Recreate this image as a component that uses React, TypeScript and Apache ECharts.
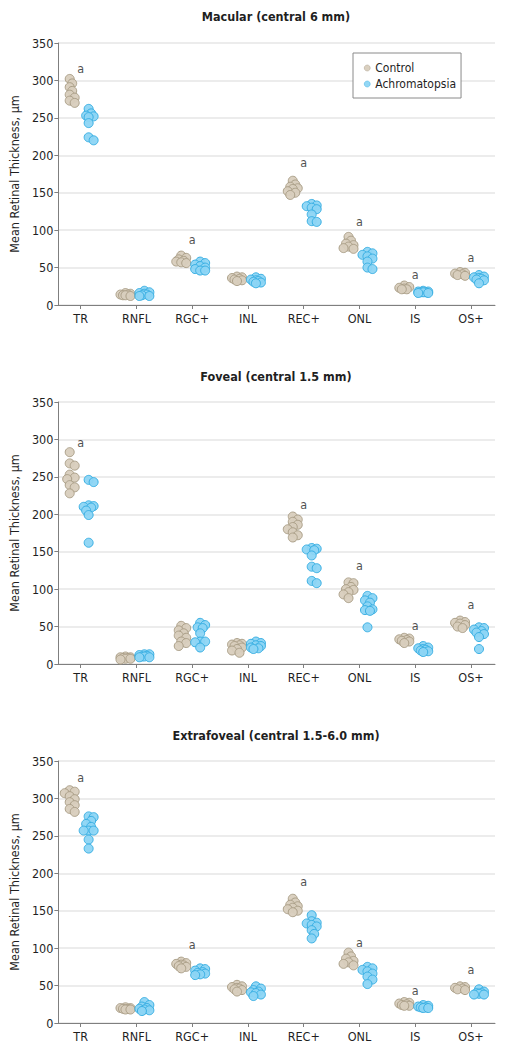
import React, { useEffect, useRef } from "react";
import * as echarts from "echarts";

const categories = ["TR", "RNFL", "RGC+", "INL", "REC+", "ONL", "IS", "OS+"];

// Macular (central 6 mm)
const macularControl = [
  [302, 296, 291, 286, 281, 277, 273, 270],
  [16, 15, 14, 14, 13, 13, 12],
  [66, 63, 61, 59, 58, 57, 56],
  [38, 37, 36, 35, 34, 33, 32],
  [166, 161, 158, 156, 155, 152, 150, 147],
  [91, 86, 82, 80, 78, 76, 75],
  [26, 24, 23, 22, 21, 21],
  [44, 43, 42, 41, 40, 39],
];
const macularAchro = [
  [262, 256, 253, 252, 251, 243, 224, 220],
  [19, 17, 16, 15, 14, 13, 12, 12],
  [58, 56, 54, 52, 50, 48, 46, 46],
  [37, 35, 34, 33, 32, 31, 30, 29],
  [135, 133, 132, 130, 128, 121, 112, 111],
  [71, 69, 67, 65, 62, 58, 50, 48],
  [19, 18, 18, 17, 17, 17, 16, 16],
  [40, 38, 37, 36, 35, 34, 33, 29],
];
const macularSig = [316, null, 88, null, 190, 111, 41, 63];

// Foveal (central 1.5 mm)
const fovealControl = [
  [283, 268, 265, 253, 249, 247, 239, 236, 228],
  [10, 9, 9, 8, 8, 7, 7, 6],
  [51, 48, 45, 41, 38, 35, 30, 28, 24],
  [28, 27, 26, 25, 24, 22, 20, 18, 15],
  [197, 193, 190, 186, 183, 180, 176, 172, 169],
  [109, 108, 103, 100, 99, 96, 93, 88],
  [35, 34, 33, 32, 31, 30, 28],
  [58, 56, 55, 54, 52, 50, 48],
];
const fovealAchro = [
  [246, 243, 212, 211, 210, 209, 205, 199, 162],
  [13, 13, 12, 11, 10, 10, 9, 9],
  [55, 52, 49, 48, 41, 30, 30, 29, 22],
  [30, 28, 27, 25, 24, 22, 21, 20],
  [155, 154, 153, 152, 145, 130, 128, 111, 108],
  [91, 88, 85, 82, 77, 73, 72, 71, 49],
  [24, 22, 21, 20, 19, 18, 17, 16],
  [49, 48, 46, 44, 42, 40, 36, 20],
];
const fovealSig = [296, null, null, null, 213, 132, 51, 79];

// Extrafoveal (central 1.5-6.0 mm)
const extraControl = [
  [311, 309, 307, 303, 299, 295, 291, 286, 282],
  [21, 20, 20, 19, 19, 18, 18],
  [82, 80, 79, 78, 77, 76, 75, 73],
  [51, 49, 48, 47, 46, 45, 44, 42],
  [166, 161, 158, 156, 154, 152, 150, 148],
  [94, 89, 86, 83, 81, 79, 77],
  [28, 27, 26, 25, 24, 23, 23],
  [49, 48, 47, 46, 45, 44],
];
const extraAchro = [
  [276, 275, 270, 266, 262, 257, 257, 257, 245, 233],
  [28, 24, 22, 20, 19, 18, 17, 16],
  [73, 72, 70, 68, 67, 66, 65, 64],
  [49, 46, 44, 42, 41, 40, 38, 36],
  [144, 136, 134, 133, 131, 129, 124, 119, 113],
  [75, 73, 71, 69, 66, 62, 58, 52],
  [24, 23, 22, 21, 21, 20, 20],
  [45, 42, 40, 40, 39, 38, 38],
];
const extraSig = [328, null, 105, null, 189, 107, 44, 72];

const panels = [
  { title: "Macular (central 6 mm)", control: macularControl, achro: macularAchro, sig: macularSig, top: 43, titleTop: 10 },
  { title: "Foveal (central 1.5 mm)", control: fovealControl, achro: fovealAchro, sig: fovealSig, top: 402, titleTop: 370 },
  { title: "Extrafoveal (central 1.5-6.0 mm)", control: extraControl, achro: extraAchro, sig: extraSig, top: 761, titleTop: 729 },
];

const FONT = "'Liberation Sans Narrow', 'DejaVu Sans Condensed', Roboto, sans-serif";
const TEXT = "#1f1f1f";
const AXIS = "#7f7f7f";
const GRID_LEFT = 57;
const GRID_W = 438;
const GRID_H = 262;
const X_MIN = -0.4;
const X_MAX = 7.43;
const Y_MAX = 350;

// simple beeswarm: returns horizontal pixel offsets
function swarm(values: number[], pxPerUnit: number): number[] {
  const minDist = 4.5;
  const step = 2.5;
  const maxOff = 5;
  const order = values.map((v, i) => i).sort((a, b) => values[b] - values[a]);
  const placed: { x: number; y: number }[] = [];
  const out = new Array(values.length).fill(0);
  const cands: number[] = [0];
  for (let k = step; k <= maxOff + 1e-6; k += step) cands.push(k, -k);
  for (const idx of order) {
    const y = values[idx] * pxPerUnit;
    let best = 0;
    let bestD = -1;
    for (const c of cands) {
      let d = Infinity;
      for (const p of placed) d = Math.min(d, Math.hypot(p.x - c, p.y - y));
      if (d >= minDist) { best = c; bestD = Infinity; break; }
      if (d > bestD) { bestD = d; best = c; }
    }
    placed.push({ x: best, y });
    out[idx] = best;
  }
  return out;
}

function buildPoints(groups: number[][], groupShiftPx: number) {
  const bandPx = GRID_W / (X_MAX - X_MIN);
  const pxPerUnit = GRID_H / Y_MAX;
  const data: number[][] = [];
  groups.forEach((vals, ci) => {
    const offs = swarm(vals, pxPerUnit);
    vals.forEach((v, j) => {
      data.push([ci + (groupShiftPx + offs[j]) / bandPx, v]);
    });
  });
  return data;
}

export default function App() {
  const ref = useRef<HTMLDivElement>(null);
  useEffect(() => {
    document.body.style.margin = "0";
    const chart = echarts.init(ref.current!, null, { renderer: "svg" });
    const idxs = categories.map((_, i) => i);
    const series: any[] = [];
    panels.forEach((p, i) => {
      series.push({
        type: "scatter",
        name: "Control",
        xAxisIndex: i,
        yAxisIndex: i,
        symbol: "circle",
        symbolSize: 9,
        itemStyle: { color: "#d8cebd", borderColor: "#a99d86", borderWidth: 1, opacity: 0.95 },
        data: buildPoints(p.control, -11),
      });
      series.push({
        type: "scatter",
        name: "Achromatopsia",
        xAxisIndex: i,
        yAxisIndex: i,
        symbol: "circle",
        symbolSize: 9,
        itemStyle: { color: "#8dd5f4", borderColor: "#35ade2", borderWidth: 1, opacity: 0.95 },
        data: buildPoints(p.achro, 8),
      });
      series.push({
        type: "scatter",
        name: "sig",
        xAxisIndex: i,
        yAxisIndex: i,
        symbol: "circle",
        symbolSize: 1,
        silent: true,
        itemStyle: { color: "rgba(0,0,0,0)" },
        label: { show: true, position: "inside", formatter: "a", fontSize: 12.5, color: TEXT, fontFamily: FONT },
        data: p.sig.map((v, ci) => (v == null ? null : [ci, v])).filter((d) => d != null),
      });
    });

    const option: any = {
      animation: false,
      backgroundColor: "#ffffff",
      textStyle: { fontFamily: FONT },
      title: panels.map((p) => ({
        text: p.title,
        left: GRID_LEFT + GRID_W / 2,
        textAlign: "center",
        top: p.titleTop,
        padding: 0,
        textStyle: { fontSize: 12.5, fontWeight: "bold", color: TEXT, fontFamily: FONT },
      })),
      legend: {
        data: ["Control", "Achromatopsia"],
        orient: "vertical",
        left: 353,
        top: 53,
        padding: [8, 5, 7, 11],
        itemGap: 2,
        itemWidth: 6,
        itemHeight: 6,
        icon: "circle",
        borderColor: "#8a8a8a",
        borderWidth: 1,
        backgroundColor: "#ffffff",
        itemStyle: { borderWidth: 0.5 },
        textStyle: { fontSize: 12, color: TEXT, fontFamily: FONT, lineHeight: 14 },
      },
      grid: panels.map((p) => ({ left: GRID_LEFT, width: GRID_W, top: p.top, height: GRID_H })),
      xAxis: panels.map((p, i) => ({
        type: "value",
        gridIndex: i,
        min: X_MIN,
        max: X_MAX,
        axisLine: { show: true, onZero: false, lineStyle: { color: AXIS, width: 1 } },
        axisTick: { show: true, length: 4, customValues: idxs, lineStyle: { color: AXIS } },
        axisLabel: {
          customValues: idxs,
          formatter: (v: number) => categories[Math.round(v)] ?? "",
          fontSize: 12.5,
          color: TEXT,
          margin: 7,
          fontFamily: FONT,
        },
        splitLine: { show: false },
      })),
      yAxis: panels.map((p, i) => ({
        type: "value",
        gridIndex: i,
        min: 0,
        max: Y_MAX,
        interval: 50,
        name: "Mean Retinal Thickness, µm",
        nameLocation: "middle",
        nameGap: 36,
        nameTextStyle: { fontSize: 12.5, color: TEXT, fontFamily: FONT },
        axisLine: { show: true, onZero: false, lineStyle: { color: AXIS, width: 1 } },
        axisTick: { show: true, length: 4, lineStyle: { color: AXIS } },
        axisLabel: { fontSize: 12.5, color: TEXT, margin: 5, fontFamily: FONT },
        splitLine: { show: true, lineStyle: { color: "#e6e6e6", width: 1.5 } },
      })),
      series,
    };
    chart.setOption(option);
    return () => chart.dispose();
  }, []);
  return <div ref={ref} style={{ width: 512, height: 1050 }} />;
}
